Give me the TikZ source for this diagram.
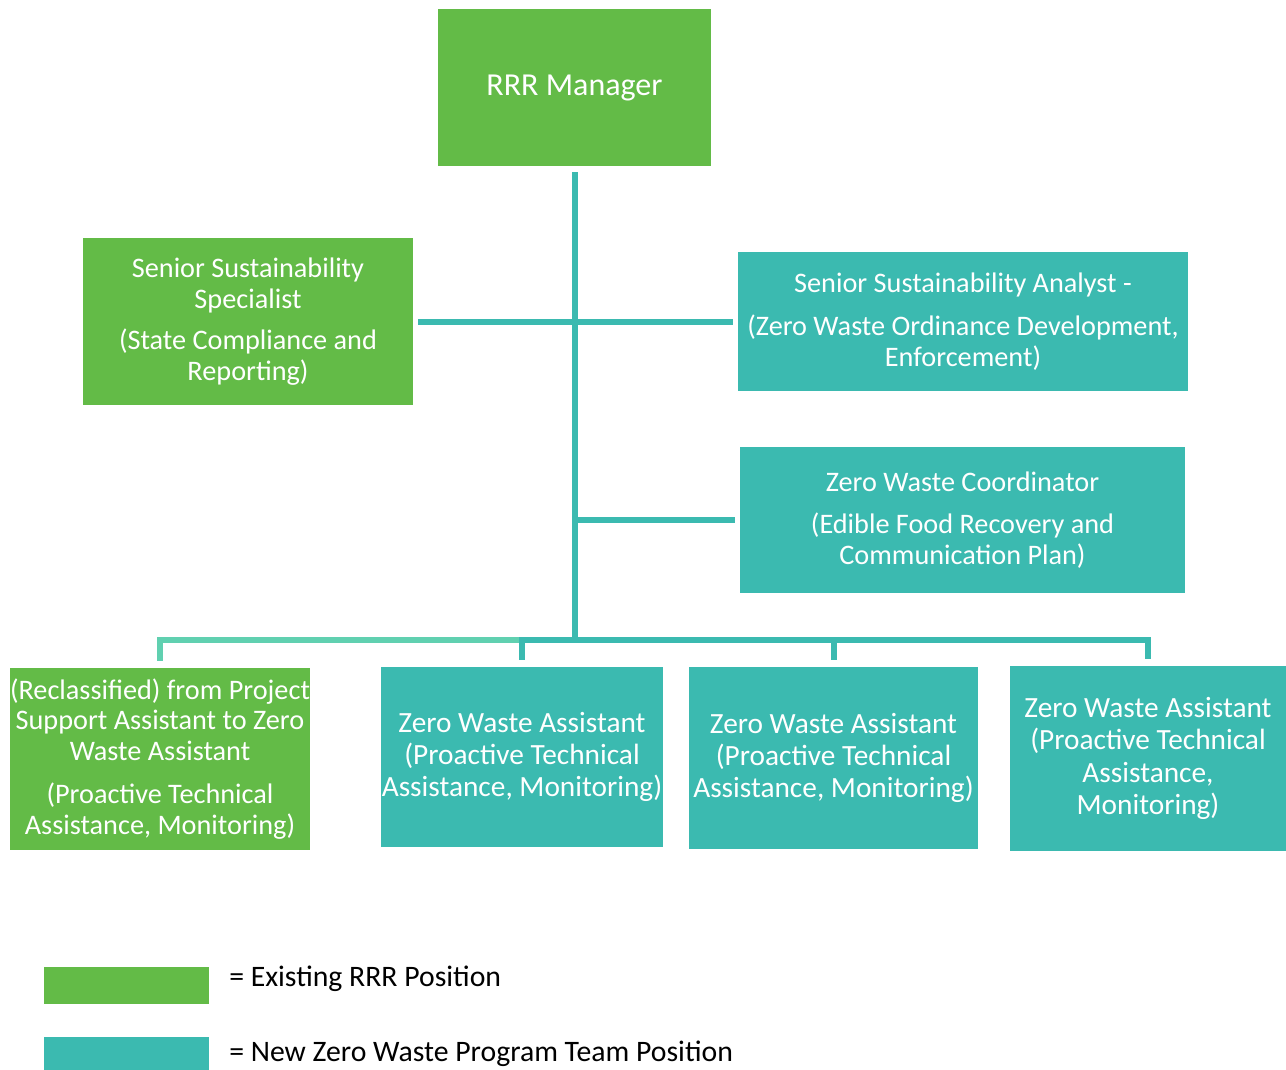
\documentclass[tikz,border=0pt]{standalone}
\usepackage{fontspec}
\setmainfont{Carlito}
\usepackage{xcolor}
\usepackage{tikz}
\usetikzlibrary{positioning}

\definecolor{rrrgreen}{RGB}{99,187,71}
\definecolor{zwteal}{RGB}{59,186,176}
\definecolor{zwmint}{RGB}{96,208,176}

\begin{document}
\begin{tikzpicture}[x=0.75pt, y=-0.75pt,
      box/.style={inner sep=0pt, align=center, text=white, font=\fontsize{22}{24.2}\selectfont},
      tighttext/.style={font=\fontsize{21.2}{23.2}\selectfont},
      existing/.style={box, fill=rrrgreen},
      newpos/.style={box, fill=zwteal},
      link/.style={draw=zwteal, line width=4.5pt},
      legendtxt/.style={anchor=west, inner sep=0pt, font=\fontsize{22.3}{24}\selectfont}]
    \useasboundingbox (0,0) rectangle (1286,1070);

    % top of the chart
    \node[existing, minimum width=204.75pt, minimum height=117.75pt, font=\fontsize{24}{26}\selectfont] (mgr) at (574.5,87.5) {RRR Manager};
    \node[existing, tighttext, minimum width=247.5pt, minimum height=125.25pt] (spec) at (248,321.5)
      {Senior Sustainability\\Specialist\\[8pt](State Compliance and\\Reporting)};
    \node[newpos, tighttext, minimum width=337.5pt, minimum height=104.25pt] (analyst) at (963,321.5)
      {Senior Sustainability Analyst -\\[9pt](Zero Waste Ordinance Development,\\Enforcement)};
    \node[newpos, tighttext, minimum width=333.75pt, minimum height=109.5pt] (coord) at (962.5,520)
      {Zero Waste Coordinator\\[8pt](Edible Food Recovery and\\Communication Plan)};

    % assistants row
    \node[existing, tighttext, minimum width=225pt, minimum height=136.5pt] (asst1) at (160,759)
      {(Reclassified) from Project\\Support Assistant to Zero\\Waste Assistant\\[9pt](Proactive Technical\\Assistance, Monitoring)};
    \node[newpos, minimum width=211.5pt, minimum height=135pt] (asst2) at (522,757)
      {Zero Waste Assistant\\(Proactive Technical\\Assistance, Monitoring)};
    \node[newpos, minimum width=216.75pt, minimum height=136.5pt] (asst3) at (833.5,758)
      {Zero Waste Assistant\\(Proactive Technical\\Assistance, Monitoring)};
    \node[newpos, minimum width=207pt, minimum height=138.75pt] (asst4) at (1148,758.5)
      {Zero Waste Assistant\\(Proactive Technical\\Assistance,\\Monitoring)};

    % legend
    \node[box, fill=rrrgreen, minimum width=123.75pt, minimum height=27.75pt] (keyold) at (126.5,985.5) {};
    \node[box, fill=zwteal, minimum width=123.75pt, minimum height=24.75pt] (keynew) at (126.5,1053.5) {};
    \node[legendtxt] (keyoldtxt) at (229,979) {= Existing RRR Position};
    \node[legendtxt] (keynewtxt) at (229,1054) {= New Zero Waste Program Team Position};

    % connectors
    \coordinate (bus) at (574.5,640);
    \draw[link, shorten <=4.5pt] (mgr.south) -- (bus);
    \draw[link, shorten <=3.75pt, shorten >=3.75pt] (spec.east) -- (analyst.west);
    \draw[link, shorten >=3.75pt] (coord.west -| bus) -- (coord.west);
    \draw[link, draw=zwmint, shorten >=5.25pt] (asst2.north |- bus) -| (asst1.north);
    \draw[link, shorten >=5.25pt] (bus) -| (asst2.north);
    \draw[link, shorten >=5.25pt] (bus) -| (asst3.north);
    \draw[link, shorten >=5.25pt] (bus) -| (asst4.north);
\end{tikzpicture}
\end{document}
